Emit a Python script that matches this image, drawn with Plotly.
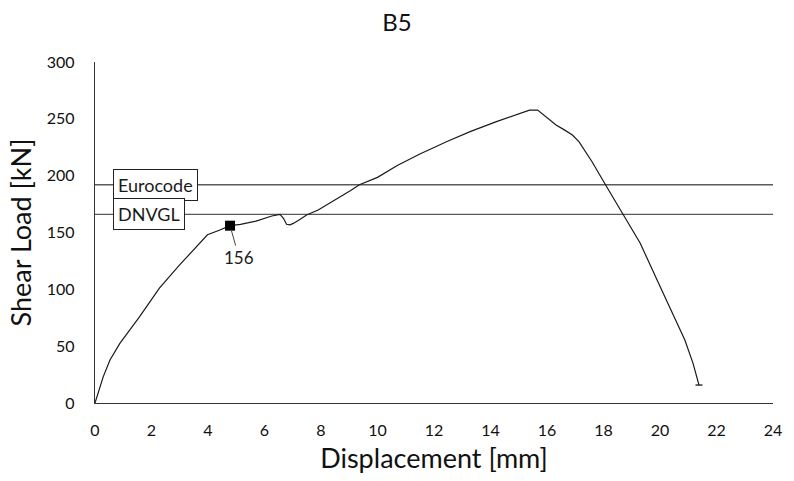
import plotly.graph_objects as go

# Load-displacement record of specimen B5
displacement = [0, 0.12, 0.29, 0.53, 0.88, 1.58, 2.28, 2.98, 3.98, 4.4, 4.78, 5.15, 5.7,
                6.26, 6.45, 6.55, 6.67, 6.78, 6.9, 7.02, 7.25, 7.49, 7.9, 8.5, 9.05, 9.36,
                10.0, 10.7, 11.5, 12.46, 13.3, 14.21, 14.91, 15.38, 15.67, 15.96, 16.32,
                16.6, 16.9, 17.13, 17.6, 18.07, 18.71, 19.3, 20.06, 20.88, 21.17, 21.38]
shear_load = [0, 10, 23, 37.8, 52.5, 76, 101, 121, 148, 152, 156, 157.2, 160,
              164.5, 165.5, 166, 162.5, 157.2, 156.8, 158, 161.5, 165.4, 169.8, 178.5, 187, 192,
              198.5, 209, 219, 230, 239, 247.5, 253.3, 257.7, 257.7, 252, 244.6,
              240.5, 235.8, 230, 212, 192, 165.4, 140.5, 99.4, 55.4, 34.9, 15.8]

# Design resistances
code_names = ["Eurocode", "DNVGL"]
code_values = [192, 166]

# Marked point
mark_x = [4.78]
mark_y = [156]

x_ticks = list(range(0, 25, 2))
y_ticks = list(range(0, 301, 50))

FONT = "Lato, 'Open Sans', sans-serif"

fig = go.Figure()

for name, val in zip(code_names, code_values):
    fig.add_trace(go.Scatter(x=[0, 24], y=[val, val], mode="lines",
                             line=dict(color="#5a5a5a", width=1.3),
                             hoverinfo="skip", showlegend=False))
    fig.add_annotation(x=0.63, y=val, text=name, showarrow=False,
                       xanchor="left", yanchor="middle",
                       bgcolor="white", bordercolor="#222222", borderwidth=1,
                       borderpad=4, font=dict(family=FONT, size=18, color="#1a1a1a"))

fig.add_trace(go.Scatter(x=displacement, y=shear_load, mode="lines",
                         line=dict(color="#1a1a1a", width=1.2), showlegend=False))

# small end marker of the record
fig.add_trace(go.Scatter(x=[displacement[-1]], y=[shear_load[-1]], mode="markers",
                         marker=dict(symbol="line-ew", size=5,
                                     line=dict(color="#1a1a1a", width=1.3)),
                         showlegend=False))

fig.add_trace(go.Scatter(x=mark_x, y=mark_y, mode="markers",
                         marker=dict(symbol="square", size=10, color="black"),
                         showlegend=False))
fig.add_annotation(x=mark_x[0], y=mark_y[0], text=str(mark_y[0]), showarrow=True,
                   arrowhead=0, arrowwidth=1, arrowcolor="#444444",
                   ax=9, ay=32, standoff=4,
                   font=dict(family=FONT, size=17, color="#1a1a1a"))

fig.update_layout(
    width=794, height=481,
    margin=dict(l=95, r=15, t=62, b=78),
    paper_bgcolor="white", plot_bgcolor="white",
    title=dict(text="B5", x=0.5, xanchor="center", y=0.952, yanchor="middle",
               font=dict(family=FONT, size=24, color="#111111")),
    font=dict(family=FONT, color="#111111"),
)
fig.update_xaxes(range=[0, 24], tickvals=x_ticks, showgrid=False, zeroline=False,
                 showline=True, linecolor="#333333", linewidth=1.3,
                 ticks="", ticklabelstandoff=13,
                 tickfont=dict(family=FONT, size=16, color="#111111"),
                 title=dict(text="Displacement [mm]", standoff=10,
                            font=dict(family=FONT, size=27, color="#111111")))
fig.update_yaxes(range=[0, 300], tickvals=y_ticks, showgrid=False, zeroline=False,
                 showline=True, linecolor="#333333", linewidth=1.3,
                 ticks="", ticklabelstandoff=16,
                 tickfont=dict(family=FONT, size=16, color="#111111"),
                 title=dict(text="Shear Load [kN]", standoff=7,
                            font=dict(family=FONT, size=27, color="#111111")))

fig.write_html("out.html")
